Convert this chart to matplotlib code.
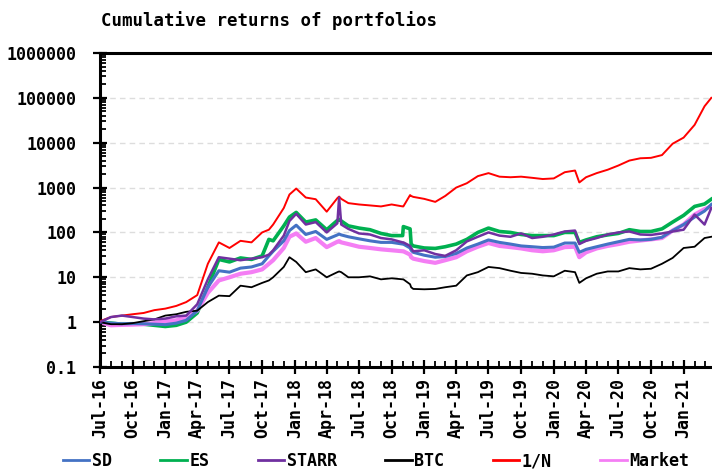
import matplotlib
matplotlib.use("Agg")
import matplotlib.pyplot as plt
import matplotlib.dates as mdates
import matplotlib.ticker as mticker
import numpy as np
import pandas as pd

dates = ["2016-07-01", "2016-08-01", "2016-09-01", "2016-10-01", "2016-11-01", "2016-12-01",
         "2017-01-01", "2017-02-01", "2017-03-01", "2017-04-01", "2017-05-01", "2017-06-01",
         "2017-07-01", "2017-08-01", "2017-09-01", "2017-10-01", "2017-10-20", "2017-11-01",
         "2017-12-01", "2017-12-17", "2018-01-05", "2018-02-01", "2018-03-01", "2018-04-01",
         "2018-05-01", "2018-05-06", "2018-05-12", "2018-06-01", "2018-07-01", "2018-08-01",
         "2018-09-01", "2018-10-01", "2018-11-01", "2018-11-03", "2018-11-22", "2018-11-25",
         "2018-12-01", "2019-01-01", "2019-02-01", "2019-03-01", "2019-04-01", "2019-05-01",
         "2019-06-01", "2019-07-01", "2019-08-01", "2019-09-01", "2019-10-01", "2019-11-01",
         "2019-12-01", "2020-01-01", "2020-02-01", "2020-03-01", "2020-03-13", "2020-04-01",
         "2020-05-01", "2020-06-01", "2020-07-01", "2020-08-01", "2020-09-01", "2020-10-01",
         "2020-11-01", "2020-12-01", "2021-01-01", "2021-02-01", "2021-03-01", "2021-03-20"]

sd = [1, 0.95, 0.92, 0.93, 0.92, 0.9, 0.88, 0.95, 1.1, 1.8, 6, 14,
      13, 16, 17, 20, 30, 38, 65, 110, 145, 90, 105, 70,
      88, 92, 88, 80, 72, 65, 60, 60, 55, 55, 45, 40,
      36, 31, 28, 29, 34, 45, 55, 68, 60, 55, 50, 48,
      46, 47, 58, 58, 36, 42, 48, 55, 62, 70, 68, 70,
      78, 110, 150, 220, 300, 420]
es = [1, 0.95, 0.9, 0.92, 0.9, 0.85, 0.8, 0.85, 1.0, 1.6, 6, 25,
      22, 27, 25, 30, 70, 65, 140, 220, 280, 170, 190, 115,
      185, 195, 180, 140, 125, 115, 95, 85, 85, 135, 120, 55,
      50, 45, 44, 48, 55, 70, 100, 125, 105, 100, 90, 85,
      85, 85, 100, 100, 60, 68, 80, 88, 95, 115, 105, 105,
      120, 170, 240, 380, 430, 550]
starr = [1, 1.3, 1.4, 1.3, 1.2, 1.15, 1.2, 1.35, 1.4, 2.5, 9, 28,
         26, 24, 26, 28, 32, 40, 85, 180, 260, 150, 170, 100,
         160, 600, 150, 120, 95, 90, 75, 70, 60, 60, 50, 45,
         38, 40, 33, 30, 40, 63, 80, 100, 85, 80, 95, 75,
         80, 90, 105, 110, 55, 65, 75, 90, 100, 105, 90, 88,
         95, 105, 115, 250, 150, 350]
btc = [1, 0.9, 0.9, 0.95, 1.05, 1.15, 1.4, 1.5, 1.7, 1.8, 2.8, 3.9,
       3.8, 6.5, 6.0, 7.5, 8.5, 10, 17, 28, 22, 13, 15, 10,
       13, 13.5, 13, 10, 10, 10.5, 9, 9.5, 9, 9, 7, 6,
       5.5, 5.4, 5.5, 6.0, 6.5, 11, 13, 17, 16, 14, 12.5, 12,
       11, 10.5, 14, 13, 7.5, 9.5, 12, 13.5, 13.5, 16, 15, 15.5,
       20, 27, 45, 48, 75, 80]
one_n = [1.05, 1.3, 1.4, 1.5, 1.6, 1.85, 2.0, 2.3, 2.8, 4.0, 20, 60,
         45, 65, 60, 100, 115, 150, 350, 700, 950, 600, 550, 290,
         580, 630, 560, 450, 420, 400, 380, 420, 380, 380, 680, 650,
         620, 560, 480, 650, 1000, 1250, 1800, 2100, 1750, 1700, 1750, 1650,
         1550, 1600, 2200, 2400, 1300, 1700, 2100, 2500, 3100, 4000, 4500, 4600,
         5300, 9500, 13000, 25000, 65000, 100000]
market = [1, 0.85, 0.87, 0.88, 0.9, 0.95, 1.05, 1.1, 1.3, 1.8, 4.5, 8.5,
          10, 12, 13, 15, 20, 24, 45, 80, 95, 62, 75, 47,
          62, 64, 60, 55, 48, 45, 42, 40, 38, 38, 32, 28,
          26, 23, 21, 24, 28, 38, 48, 58, 50, 47, 44, 40,
          38, 40, 47, 48, 28, 36, 44, 50, 55, 62, 66, 70,
          75, 110, 150, 250, 330, 380]

labels = ["SD", "ES", "STARR", "BTC", "1/N", "Market"]
series = [sd, es, starr, btc, one_n, market]
colors = ["#4472C4", "#00B050", "#7030A0", "#000000", "#FF0000", "#F47EF4"]
widths = [2.2, 2.6, 1.8, 1.3, 1.4, 3.0]
zorders = [3, 2, 4, 3, 3, 2.5]

x = pd.to_datetime(dates)

mono = "DejaVu Sans Mono"
fig = plt.figure(figsize=(7.12, 4.70), dpi=100)
ax = fig.add_axes([100 / 712, 1 - 367 / 470, 612 / 712, (367 - 53) / 470])

for lab, s, c, w, z in zip(labels, series, colors, widths, zorders):
    ax.plot(x, s, color=c, lw=w, label=lab, zorder=z, solid_joinstyle="round")

ax.set_yscale("log")
ax.set_ylim(0.1, 1e6)
ax.set_xlim(pd.Timestamp("2016-07-01"), pd.Timestamp("2021-03-22"))

ax.yaxis.set_major_locator(mticker.LogLocator(base=10, numticks=20))
ax.yaxis.set_minor_locator(mticker.LogLocator(base=10, subs=np.arange(2, 10), numticks=20))
ax.yaxis.set_major_formatter(mticker.FuncFormatter(lambda v, p: "0.1" if v < 1 else str(int(round(v)))))
ax.yaxis.set_minor_formatter(mticker.NullFormatter())

ax.xaxis.set_major_locator(mdates.MonthLocator(bymonth=[1, 4, 7, 10]))
ax.xaxis.set_minor_locator(mdates.MonthLocator())
ax.xaxis.set_major_formatter(mdates.DateFormatter("%b-%y"))

ax.grid(axis="y", which="major", color="#dddddd", linestyle=(0, (4, 3)), linewidth=1.0, zorder=0)
ax.set_axisbelow(True)

ax.tick_params(axis="both", which="major", direction="inout", length=10, width=1.6,
               labelsize=12, pad=3)
ax.tick_params(axis="both", which="minor", direction="in", length=4, width=1.3)
ax.tick_params(axis="y", which="major", pad=12)
for lbl in ax.get_xticklabels():
    lbl.set_rotation(90)
    lbl.set_fontfamily(mono)
    lbl.set_fontweight("bold")
for lbl in ax.get_yticklabels():
    lbl.set_fontfamily(mono)
    lbl.set_fontweight("bold")

for side in ["left", "bottom", "top"]:
    ax.spines[side].set_linewidth(2.2)
ax.spines["right"].set_visible(False)

fig.text(269 / 712, 1 - 21 / 470, "Cumulative returns of portfolios", ha="center", va="center",
         fontsize=12.5, fontfamily=mono, fontweight="bold")

leg = fig.legend(loc="center", bbox_to_anchor=(376 / 712, 1 - 461 / 470), ncol=6, frameon=False,
                 prop={"family": mono, "weight": "bold", "size": 12},
                 handlelength=1.6, handletextpad=0.15, columnspacing=2.9, borderaxespad=0)
for ln in leg.get_lines():
    ln.set_linewidth(2.0)

fig.savefig("out.png", dpi=100)
